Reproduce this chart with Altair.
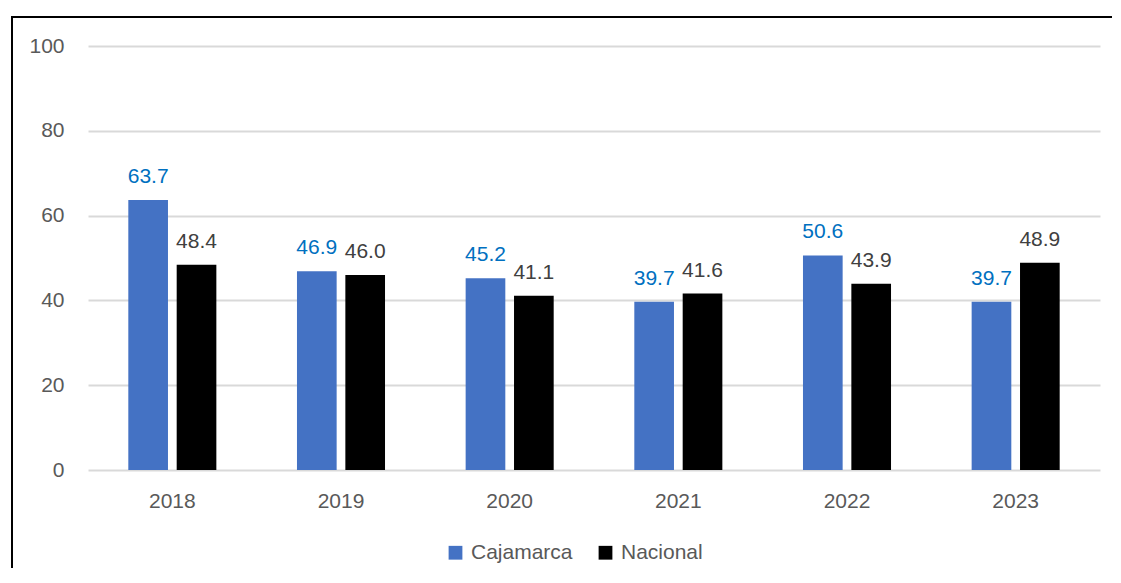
import altair as alt
import pandas as pd

years = ["2018", "2019", "2020", "2021", "2022", "2023"]
cajamarca = [63.7, 46.9, 45.2, 39.7, 50.6, 39.7]
nacional = [48.4, 46.0, 41.1, 41.6, 43.9, 48.9]
series = ["Cajamarca", "Nacional"]

rows = []
for i, y in enumerate(years):
    rows.append({"year": y, "serie": series[0], "valor": cajamarca[i]})
    rows.append({"year": y, "serie": series[1], "valor": nacional[i]})
df = pd.DataFrame(rows)

FONT = "Liberation Sans"
FS = 21
W, H = 1012, 424

x_enc = alt.X("year:N", title=None, sort=years,
              scale=alt.Scale(paddingInner=0.478, paddingOuter=0.239),
              axis=alt.Axis(labelAngle=0, domain=False, ticks=False, grid=False, labelPadding=20,
                            labelFontSize=FS, labelColor="#595959", labelFont=FONT))
xo_enc = alt.XOffset("serie:N", sort=series, scale=alt.Scale(paddingInner=0.18, paddingOuter=0))
y_enc = alt.Y("valor:Q", title=None,
              scale=alt.Scale(domain=[0, 100], nice=False),
              axis=alt.Axis(values=[0, 20, 40, 60, 80, 100], domain=False, ticks=False,
                            grid=True, gridColor="#d9d9d9", gridWidth=2, labelPadding=24,
                            labelFontSize=FS, labelColor="#595959", labelFont=FONT))

bars = alt.Chart(df).mark_bar().encode(
    x=x_enc, xOffset=xo_enc, y=y_enc,
    color=alt.Color("serie:N", sort=series, title=None,
                    scale=alt.Scale(domain=series, range=["#4472C4", "#000000"]),
                    legend=alt.Legend(orient="none", legendX=357, legendY=72 + H,
                                      direction="horizontal", symbolType="square",
                                      symbolSize=190, symbolStrokeWidth=0,
                                      labelFontSize=FS, labelFont=FONT, labelColor="#595959",
                                      labelOffset=5, columnPadding=22)),
)

labels = alt.Chart(df).mark_text(baseline="alphabetic", dy=-17, fontSize=FS, font=FONT).encode(
    x=alt.X("year:N", sort=years), xOffset=alt.XOffset("serie:N", sort=series),
    y=alt.Y("valor:Q"),
    text=alt.Text("valor:Q", format=".1f"),
    color=alt.Color("serie:N", sort=series,
                    scale=alt.Scale(domain=series, range=["#0070C0", "#404040"]),
                    legend=None),
)

frame = alt.Chart(pd.DataFrame({"a": [0]})).mark_rect(fill=None, stroke="#000000", strokeWidth=2).encode(
    x=alt.value(-76), x2=alt.value(W + 60), y=alt.value(-29), y2=alt.value(H + 160)
)

chart = alt.layer(bars, labels, frame).resolve_scale(color="independent").properties(
    width=W, height=H,
    background="#ffffff",
    autosize=alt.AutoSizeParams(type="none"),
    padding={"left": 80, "top": 38, "right": 12, "bottom": 98},
).configure_view(strokeWidth=0, stroke="transparent").configure_axis(domain=False)

chart.save("out.html", embed_options={"renderer": "svg", "actions": False})
